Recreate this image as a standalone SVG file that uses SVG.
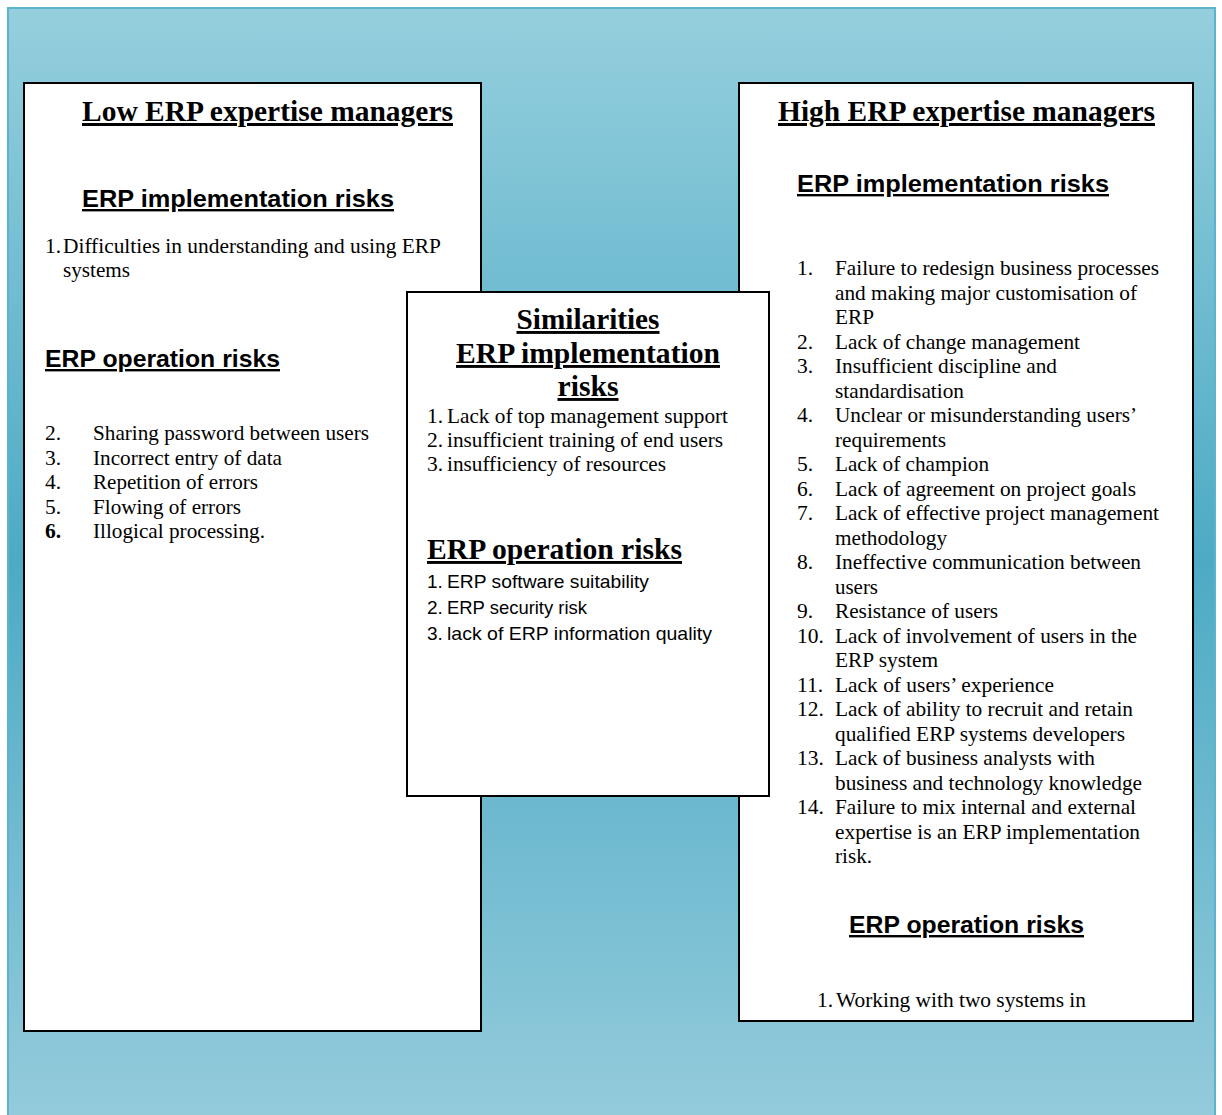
<svg xmlns="http://www.w3.org/2000/svg" width="1222" height="1115" viewBox="0 0 1222 1115">
<defs>
<linearGradient id="bg" gradientUnits="userSpaceOnUse" x1="0" y1="8" x2="0" y2="1115">
<stop offset="0" stop-color="#95cfdd"/>
<stop offset="0.5" stop-color="#4daac5"/>
<stop offset="1" stop-color="#93cbdb"/>
</linearGradient>
<style>
.box{fill:#fff;stroke:#000;stroke-width:2}
.title{font-family:"Liberation Serif","Times New Roman",serif;font-weight:bold;font-size:30px;text-decoration:underline;fill:#000}
.head{font-family:"Liberation Sans",Arial,sans-serif;font-weight:bold;font-size:24px;text-decoration:underline;fill:#000}
.shead{font-family:"Liberation Serif","Times New Roman",serif;font-weight:bold;font-size:29px;text-decoration:underline;fill:#000}
.t{font-family:"Liberation Serif","Times New Roman",serif;font-size:21.5px;fill:#000}
.tb{font-family:"Liberation Serif","Times New Roman",serif;font-size:21.5px;font-weight:bold;fill:#000}
.s{font-family:"Liberation Sans",Arial,sans-serif;font-size:19px;fill:#000}
</style>
</defs>
<rect x="8" y="8" width="1207" height="1120" fill="url(#bg)" stroke="#5bb3cc" stroke-width="2"/>

<g id="low-expertise">
<rect class="box" x="24" y="83" width="457" height="948"/>
<text class="title" x="82" y="121" textLength="371" lengthAdjust="spacingAndGlyphs">Low ERP expertise managers</text>
<text class="head" x="82" y="207" textLength="312" lengthAdjust="spacingAndGlyphs">ERP implementation risks</text>
<text class="t" x="45" y="253">1.</text>
<text class="t" x="63" y="253" textLength="378" lengthAdjust="spacingAndGlyphs">Difficulties in understanding and using ERP</text>
<text class="t" x="63" y="277" textLength="67" lengthAdjust="spacingAndGlyphs">systems</text>
<text class="head" x="45" y="367" textLength="235" lengthAdjust="spacingAndGlyphs">ERP operation risks</text>
<text class="t" x="45" y="440">2.</text>
<text class="t" x="93" y="440" textLength="276" lengthAdjust="spacingAndGlyphs">Sharing password between users</text>
<text class="t" x="45" y="464.5">3.</text>
<text class="t" x="93" y="464.5" textLength="189" lengthAdjust="spacingAndGlyphs">Incorrect entry of data</text>
<text class="t" x="45" y="489">4.</text>
<text class="t" x="93" y="489" textLength="165" lengthAdjust="spacingAndGlyphs">Repetition of errors</text>
<text class="t" x="45" y="513.5">5.</text>
<text class="t" x="93" y="513.5" textLength="148" lengthAdjust="spacingAndGlyphs">Flowing of errors</text>
<text class="tb" x="45" y="538">6.</text>
<text class="t" x="93" y="538" textLength="172" lengthAdjust="spacingAndGlyphs">Illogical processing.</text>
</g>

<g id="high-expertise">
<rect class="box" x="739" y="83" width="454" height="938"/>
<text class="title" x="778" y="121" textLength="377" lengthAdjust="spacingAndGlyphs">High ERP expertise managers</text>
<text class="head" x="797" y="192" textLength="312" lengthAdjust="spacingAndGlyphs">ERP implementation risks</text>
<g class="t">
<text x="797" y="275">1.</text>
<text x="835" y="275" textLength="324" lengthAdjust="spacingAndGlyphs">Failure to redesign business processes</text>
<text x="835" y="299.5" textLength="302" lengthAdjust="spacingAndGlyphs">and making major customisation of</text>
<text x="835" y="324" textLength="39" lengthAdjust="spacingAndGlyphs">ERP</text>
<text x="797" y="348.5">2.</text>
<text x="835" y="348.5" textLength="245" lengthAdjust="spacingAndGlyphs">Lack of change management</text>
<text x="797" y="373">3.</text>
<text x="835" y="373" textLength="222" lengthAdjust="spacingAndGlyphs">Insufficient discipline and</text>
<text x="835" y="397.5" textLength="129" lengthAdjust="spacingAndGlyphs">standardisation</text>
<text x="797" y="422">4.</text>
<text x="835" y="422" textLength="302" lengthAdjust="spacingAndGlyphs">Unclear or misunderstanding users’</text>
<text x="835" y="446.5" textLength="111" lengthAdjust="spacingAndGlyphs">requirements</text>
<text x="797" y="471">5.</text>
<text x="835" y="471" textLength="154" lengthAdjust="spacingAndGlyphs">Lack of champion</text>
<text x="797" y="495.5">6.</text>
<text x="835" y="495.5" textLength="301" lengthAdjust="spacingAndGlyphs">Lack of agreement on project goals</text>
<text x="797" y="520">7.</text>
<text x="835" y="520" textLength="324" lengthAdjust="spacingAndGlyphs">Lack of effective project management</text>
<text x="835" y="544.5" textLength="112" lengthAdjust="spacingAndGlyphs">methodology</text>
<text x="797" y="569">8.</text>
<text x="835" y="569" textLength="306" lengthAdjust="spacingAndGlyphs">Ineffective communication between</text>
<text x="835" y="593.5" textLength="43" lengthAdjust="spacingAndGlyphs">users</text>
<text x="797" y="618">9.</text>
<text x="835" y="618" textLength="163" lengthAdjust="spacingAndGlyphs">Resistance of users</text>
<text x="797" y="642.5">10.</text>
<text x="835" y="642.5" textLength="302" lengthAdjust="spacingAndGlyphs">Lack of involvement of users in the</text>
<text x="835" y="667" textLength="103" lengthAdjust="spacingAndGlyphs">ERP system</text>
<text x="797" y="691.5">11.</text>
<text x="835" y="691.5" textLength="219" lengthAdjust="spacingAndGlyphs">Lack of users’ experience</text>
<text x="797" y="716">12.</text>
<text x="835" y="716" textLength="298" lengthAdjust="spacingAndGlyphs">Lack of ability to recruit and retain</text>
<text x="835" y="740.5" textLength="290" lengthAdjust="spacingAndGlyphs">qualified ERP systems developers</text>
<text x="797" y="765">13.</text>
<text x="835" y="765" textLength="260" lengthAdjust="spacingAndGlyphs">Lack of business analysts with</text>
<text x="835" y="789.5" textLength="307" lengthAdjust="spacingAndGlyphs">business and technology knowledge</text>
<text x="797" y="814">14.</text>
<text x="835" y="814" textLength="301" lengthAdjust="spacingAndGlyphs">Failure to mix internal and external</text>
<text x="835" y="838.5" textLength="305" lengthAdjust="spacingAndGlyphs">expertise is an ERP implementation</text>
<text x="835" y="863" textLength="37" lengthAdjust="spacingAndGlyphs">risk.</text>
</g>
<text class="head" x="849" y="933" textLength="235" lengthAdjust="spacingAndGlyphs">ERP operation risks</text>
<text class="t" x="817" y="1007">1.</text>
<text class="t" x="836" y="1007" textLength="250" lengthAdjust="spacingAndGlyphs">Working with two systems in</text>
</g>

<g id="similarities">
<rect class="box" x="407" y="292" width="362" height="504"/>
<text class="shead" x="588" y="329" text-anchor="middle" textLength="143" lengthAdjust="spacingAndGlyphs">Similarities</text>
<text class="shead" x="588" y="363" text-anchor="middle" textLength="264" lengthAdjust="spacingAndGlyphs">ERP implementation</text>
<text class="shead" x="588" y="396" text-anchor="middle" textLength="61" lengthAdjust="spacingAndGlyphs">risks</text>
<text class="t" x="427" y="423">1.</text>
<text class="t" x="447" y="423" textLength="281" lengthAdjust="spacingAndGlyphs">Lack of top management support</text>
<text class="t" x="427" y="447">2.</text>
<text class="t" x="447" y="447" textLength="276" lengthAdjust="spacingAndGlyphs">insufficient training of end users</text>
<text class="t" x="427" y="471">3.</text>
<text class="t" x="447" y="471" textLength="219" lengthAdjust="spacingAndGlyphs">insufficiency of resources</text>
<text class="shead" x="427" y="559" textLength="255" lengthAdjust="spacingAndGlyphs">ERP operation risks</text>
<text class="s" x="427" y="588">1.</text>
<text class="s" x="447" y="588" textLength="202" lengthAdjust="spacingAndGlyphs">ERP software suitability</text>
<text class="s" x="427" y="614">2.</text>
<text class="s" x="447" y="614" textLength="140" lengthAdjust="spacingAndGlyphs">ERP security risk</text>
<text class="s" x="427" y="640">3.</text>
<text class="s" x="447" y="640" textLength="265" lengthAdjust="spacingAndGlyphs">lack of ERP information quality</text>
</g>

<g id="connectors"></g>
</svg>
